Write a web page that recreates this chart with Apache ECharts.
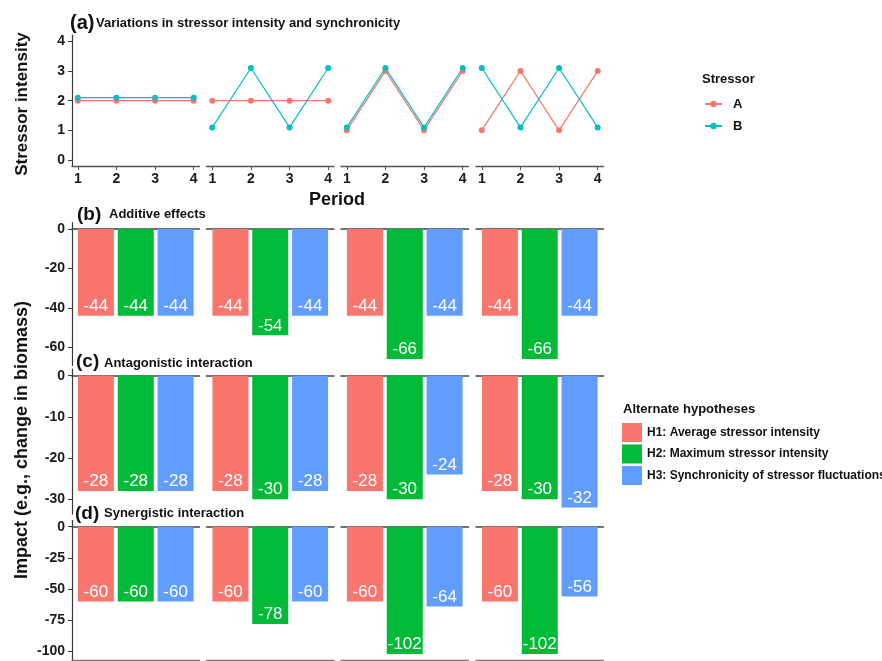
<!DOCTYPE html>
<html>
<head>
<meta charset="utf-8">
<script src="https://cdn.jsdelivr.net/npm/echarts@6/dist/echarts.min.js"></script>
<style>
html,body{margin:0;padding:0;background:#fff;}
#chart{width:882px;height:661px;}
</style>
</head>
<body>
<div id="chart"></div>
<script>
// ---------- DATA ----------
const periods = [1, 2, 3, 4];
const stressorNames = ['A', 'B'];
// stressor intensity per panel (4 scenarios), per period
const stressorA = [[2, 2, 2, 2], [2, 2, 2, 2], [1, 3, 1, 3], [1, 3, 1, 3]];
const stressorB = [[2.1, 2.1, 2.1, 2.1], [1.1, 3.1, 1.1, 3.1], [1.1, 3.1, 1.1, 3.1], [3.1, 1.1, 3.1, 1.1]];
const hypotheses = ['H1: Average stressor intensity', 'H2: Maximum stressor intensity', 'H3: Synchronicity of stressor fluctuations'];
// impact per panel (scenario), per hypothesis
const additive = [[-44, -44, -44], [-44, -54, -44], [-44, -66, -44], [-44, -66, -44]];
const antagonistic = [[-28, -28, -28], [-28, -30, -28], [-28, -30, -24], [-28, -30, -32]];
const synergistic = [[-60, -60, -60], [-60, -78, -60], [-60, -102, -64], [-60, -102, -56]];
// tick labels
const lineTicks = [0, 1, 2, 3, 4];
const additiveTicks = [0, -20, -40, -60];
const antagonisticTicks = [0, -10, -20, -30];
const synergisticTicks = [0, -25, -50, -75, -100];

// ---------- STYLE / LAYOUT ----------
const FONT = "'Liberation Sans', Arial, sans-serif";
const lineColors = ['#F8766D', '#00BFC4'];
const barColors = ['#F8766D', '#00BA38', '#619CFF'];
const panelLeft = [72, 206.5, 341, 476];
const panelWidth = 127.5;
const axisColor = '#3a3a3a';
const labelStyle = { fontSize: 14, fontWeight: 'bold', color: '#1a1a1a', fontFamily: FONT };

const rows = [
  { top: 35.3, height: 130.7, min: -0.2, max: 4.2, ticks: lineTicks },
  { top: 222.5, height: 143, min: -69.3, max: 3.3, ticks: additiveTicks, data: additive },
  { top: 369.1, height: 145, min: -33.6, max: 1.6, ticks: antagonisticTicks, data: antagonistic },
  { top: 520.3, height: 140, min: -107.1, max: 5.1, ticks: synergisticTicks, data: synergistic }
];

const grid = [], xAxis = [], yAxis = [], series = [];
rows.forEach((row, r) => {
  panelLeft.forEach((left, p) => {
    const gi = grid.length;
    grid.push({ left: left, width: panelWidth, top: row.top, height: row.height, outerBoundsMode: 'none', containLabel: false });
    if (r === 0) {
      xAxis.push({
        type: 'value', gridIndex: gi, min: 0.85, max: 4.15,
        axisLine: { show: true, onZero: false, lineStyle: { color: '#555', width: 1.4 } },
        axisTick: { show: true, customValues: periods, length: 4, lineStyle: { color: '#555' } },
        axisLabel: Object.assign({ show: true, customValues: periods, margin: 6 }, labelStyle),
        splitLine: { show: false }
      });
    } else {
      xAxis.push({
        type: 'value', gridIndex: gi, min: 0.4, max: 3.6, position: 'top',
        axisLine: { show: true, onZero: true, lineStyle: { color: '#444', width: 1.5 } },
        axisTick: { show: false }, axisLabel: { show: false }, splitLine: { show: false }
      });
    }
    yAxis.push({
      type: 'value', gridIndex: gi, min: row.min, max: row.max, show: p === 0,
      axisLine: { show: true, onZero: false, lineStyle: { color: axisColor, width: 1.2 } },
      axisTick: { show: true, customValues: row.ticks, length: 4, lineStyle: { color: axisColor } },
      axisLabel: Object.assign({ show: true, customValues: row.ticks, margin: 7 }, labelStyle),
      splitLine: { show: false }
    });
    if (r === 0) {
      [stressorA, stressorB].forEach((src, s) => {
        series.push({
          name: stressorNames[s], type: 'line', xAxisIndex: gi, yAxisIndex: gi,
          data: periods.map((x, i) => [x, src[p][i]]),
          symbol: 'circle', symbolSize: 6,
          itemStyle: { color: lineColors[s] },
          lineStyle: { color: lineColors[s], width: 1.2 },
          animation: false, silent: true
        });
      });
    } else {
      hypotheses.forEach((h, k) => {
        series.push({
          name: h, type: 'bar', xAxisIndex: gi, yAxisIndex: gi,
          data: [[k + 1, row.data[p][k]]],
          barWidth: 36, barGap: '-100%',
          itemStyle: { color: barColors[k] },
          label: {
            show: true, position: 'insideBottom', distance: 1,
            color: '#fff', fontSize: 17, fontFamily: FONT,
            formatter: (d) => String(d.value[1])
          },
          animation: false, silent: true
        });
      });
    }
  });
});
// bottom axis line for the last row
for (let p = 0; p < 4; p++) {
  xAxis.push({
    type: 'value', gridIndex: 12 + p, min: 0, max: 1, position: 'bottom',
    axisLine: { show: true, onZero: false, lineStyle: { color: '#777', width: 1.3 } },
    axisTick: { show: false }, axisLabel: { show: false }, splitLine: { show: false }
  });
}

function txt(x, y, text, size, align, rotation) {
  const el = {
    type: 'text', x: x, y: y, silent: true,
    style: { text: text, fontSize: size, fontWeight: 'bold', fill: '#111', fontFamily: FONT, align: align || 'left', verticalAlign: 'middle' }
  };
  if (rotation) el.rotation = rotation;
  return el;
}
const graphic = [
  txt(70, 23, '(a)', 20), txt(96, 23, 'Variations in stressor intensity and synchronicity', 13),
  txt(77, 215, '(b)', 19), txt(109, 214, 'Additive effects', 13),
  txt(76, 362, '(c)', 19), txt(104, 363, 'Antagonistic interaction', 13),
  txt(75, 514, '(d)', 19), txt(104, 513, 'Synergistic interaction', 13),
  txt(337, 200, 'Period', 18, 'center'),
  txt(22, 104, 'Stressor intensity', 17, 'center', Math.PI / 2),
  txt(22, 440, 'Impact (e.g., change in biomass)', 18, 'center', Math.PI / 2),
  txt(702, 79, 'Stressor', 13),
  txt(623, 409, 'Alternate hypotheses', 13)
];

const option = {
  backgroundColor: '#fff',
  animation: false,
  textStyle: { fontFamily: FONT },
  grid: grid, xAxis: xAxis, yAxis: yAxis, series: series,
  legend: [
    {
      data: stressorNames, orient: 'vertical', left: 699, top: 91,
      itemWidth: 17, itemHeight: 8, itemGap: 6, selectedMode: false,
      textStyle: { fontSize: 13, fontWeight: 'bold', color: '#111', lineHeight: 16, padding: [0, 0, 0, 6] }
    },
    {
      data: hypotheses, orient: 'vertical', left: 617, top: 418,
      icon: 'rect', itemWidth: 20, itemHeight: 19, itemGap: 2.5, selectedMode: false,
      textStyle: { fontSize: 12, fontWeight: 'bold', color: '#111' }
    }
  ],
  graphic: graphic
};
const chart = echarts.init(document.getElementById('chart'), null, { renderer: 'canvas' });
chart.setOption(option);
</script>
</body>
</html>
